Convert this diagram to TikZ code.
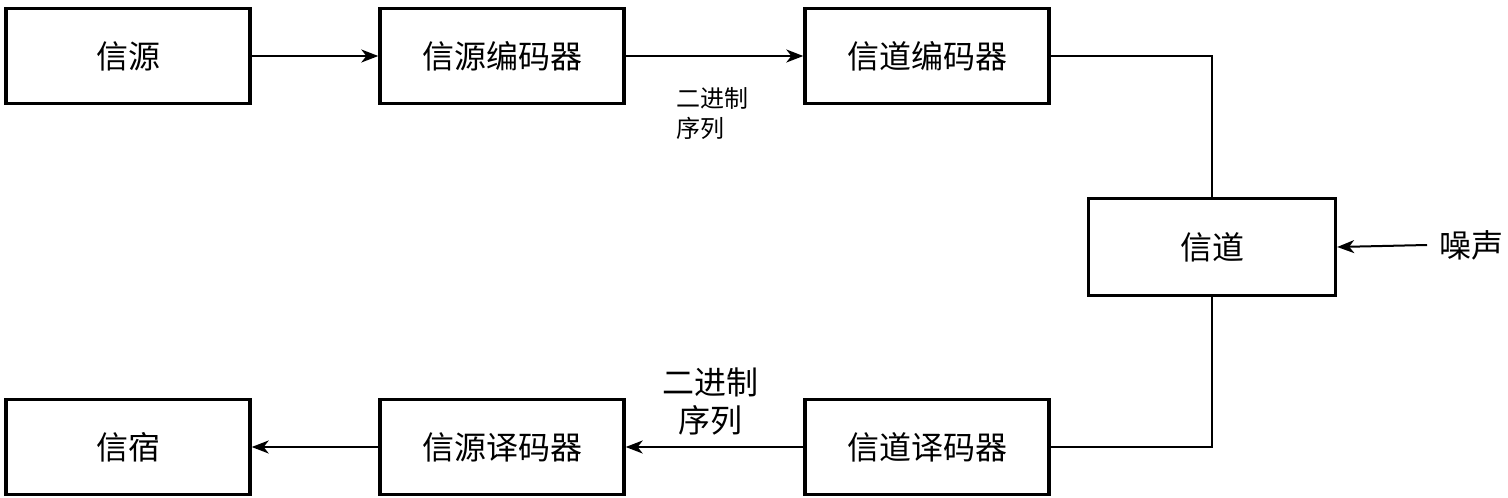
\documentclass[tikz,border=0pt]{standalone}
\usepackage{fontspec}
\newfontfamily\cjk{Noto Sans CJK SC}
\usetikzlibrary{arrows.meta}
\begin{document}
\begin{tikzpicture}[x=1pt,y=-1pt,
  blk/.style={draw, line width=3.4pt, minimum width=244pt, minimum height=95pt, inner sep=0pt,
    font=\cjk\fontsize{32}{38}\selectfont},
  conn/.style={line width=2pt},
  arr/.style={conn, -{Stealth[length=17pt,width=13pt,inset=5pt]}},
  lbl/.style={inner sep=0pt, inner xsep=12pt, font=\cjk\fontsize{32}{38}\selectfont}]
\useasboundingbox (0,0) rectangle (1508,498);
\node[blk] (src)  at (128,56)  {信源};
\node[blk] (senc) at (502,56)  {信源编码器};
\node[blk] (cenc) at (927,56)  {信道编码器};
\node[blk, minimum width=247pt, minimum height=97pt] (ch) at (1212,247) {信道};
\node[blk] (cdec) at (927,447) {信道译码器};
\node[blk] (sdec) at (502,447) {信源译码器};
\node[blk] (sink) at (128,447) {信宿};
\node[lbl, anchor=west] (noise) at (1427,245) {噪声};
\node[inner sep=0pt, anchor=west, align=left, font=\cjk\fontsize{24}{30}\selectfont] (bin1) at (676,113) {二进制\\序列};
\node[inner sep=0pt, align=center, font=\cjk\fontsize{32}{38}\selectfont] (bin2) at (710,401) {二进制\\序列};
\draw[arr] (src) -- (senc);
\draw[arr] (senc) -- (cenc);
\draw[conn] (cenc.east) -| (ch.north);
\draw[conn] (ch.south) |- (cdec.east);
\draw[arr] (noise.west) -- (ch.east);
\draw[arr] (cdec) -- (sdec);
\draw[arr] (sdec) -- (sink);
\end{tikzpicture}
\end{document}
